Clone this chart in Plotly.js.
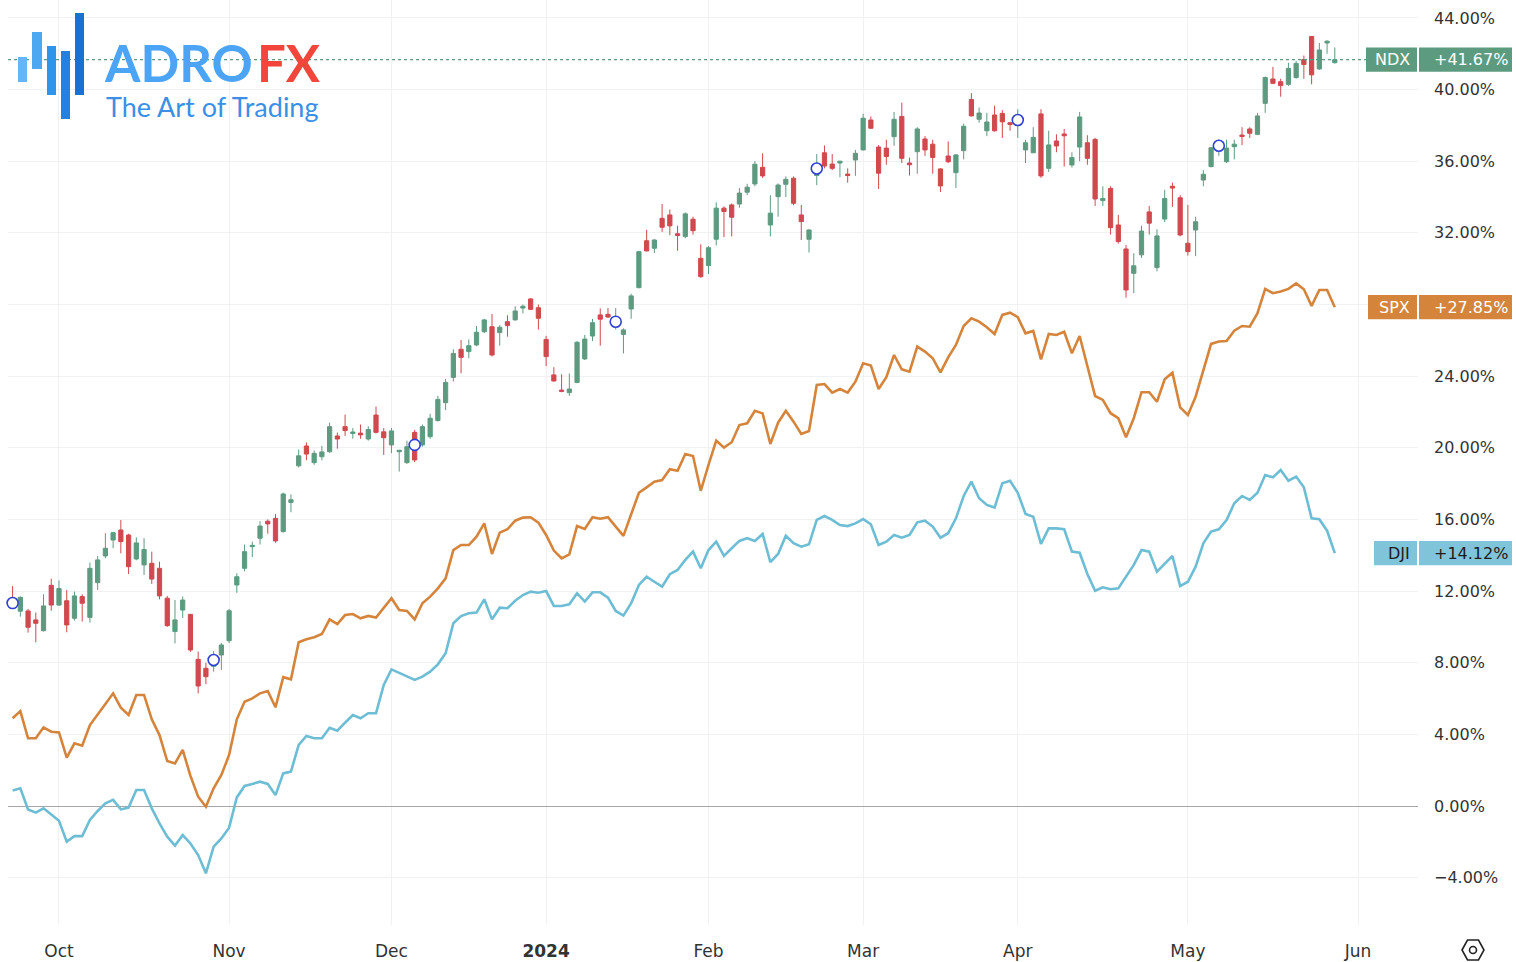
<!DOCTYPE html>
<html>
<head>
<meta charset="utf-8">
<script src="https://cdn.plot.ly/plotly-3.0.1.min.js"></script>
<style>html,body{margin:0;padding:0;background:#fff;}#chart{width:1516px;height:962px;}</style>
</head>
<body>
<div id="chart"></div>
<script>
// Trading-day index 0 = 22 Sep 2023 ... 171 = 29 May 2024 (percent change)
const monthTickIdx = [6, 28, 49, 69, 90, 110, 130, 152, 174];
const monthTickText = ['Oct', 'Nov', 'Dec', '<b>2024</b>', 'Feb', 'Mar', 'Apr', 'May', 'Jun'];
const pctTickVals = [-4, 0, 4, 8, 12, 16, 20, 24, 28, 32, 36, 40, 44];
const pctTickText = ['−4.00%', '0.00%', '4.00%', '8.00%', '12.00%', '16.00%', '20.00%', '24.00%', '', '32.00%', '36.00%', '40.00%', '44.00%'];

const ndxOpen = [
 11.6,10.88,10.89,10.39,9.79,12.32,11.22,11.46,10.48,11.69,
 10.53,12.47,13.96,14.85,15.41,15.13,13.79,13.46,13.55,13.27,
 11.6,9.74,10.94,10.7,8.19,7.69,7.8,8.43,9.23,12.34,
 13.27,14.48,14.95,15.9,16.06,15.32,16.95,18.99,20.1,19.17,
 19.5,19.78,20.66,21.18,20.8,20.82,20.49,21.83,20.89,20.16,
 19.78,19.17,20.86,20.16,20.62,21.52,22.52,23.93,25.5,25.37,
 25.74,26.48,26.76,26.43,27.04,27.14,27.8,28.31,27.82,26.05,
 24.07,23.22,23.08,23.65,24.96,26.24,27.42,27.45,26.9,26.33,
 27.75,28.94,31.56,31.14,32.81,33.0,31.95,31.79,32.76,30.58,
 30.17,31.64,33.38,33.56,33.61,34.27,34.73,35.66,32.44,34.02,
 34.71,35.05,33.0,31.64,35.2,36.47,35.84,35.9,35.28,36.07,
 36.63,38.3,36.79,36.73,37.37,38.5,35.9,36.53,37.24,36.95,
 35.57,36.29,35.36,36.59,39.45,38.34,37.7,38.58,38.67,38.15,
 38.1,36.63,36.47,38.64,35.6,37.13,37.52,35.79,36.79,37.03,
 37.22,33.8,34.48,32.44,31.1,29.74,30.77,33.17,30.06,32.77,
 34.6,33.96,31.42,32.16,34.95,35.7,36.6,35.97,36.81,37.46,
 37.8,37.5,39.23,40.59,40.44,40.29,40.67,41.68,42.96,41.15,
 42.6,41.5];
const ndxHigh = [
 12.28,11.7,11.0,10.8,11.82,12.69,12.6,12.06,11.97,11.82,
 13.59,13.96,15.23,15.3,15.97,15.2,15.0,14.95,14.2,13.64,
 11.73,11.5,11.7,10.72,8.62,8.0,8.65,9.1,11.0,13.0,
 14.6,14.76,15.9,16.0,16.3,17.5,17.4,19.9,20.3,19.85,
 20.1,21.4,20.85,21.85,21.1,21.3,21.2,22.3,21.1,21.1,
 19.88,20.4,21.0,21.3,21.9,22.9,23.85,25.5,26.02,26.05,
 26.8,27.2,27.47,26.85,27.4,27.9,28.0,28.35,28.0,26.25,
 24.5,24.1,24.15,25.95,26.3,27.2,27.78,27.8,27.8,26.67,
 28.6,31.0,32.17,31.65,33.61,33.3,32.4,33.14,32.9,31.36,
 31.26,33.7,33.48,33.64,34.5,34.74,36.0,36.44,34.1,34.76,
 35.15,35.15,33.56,32.2,36.4,36.88,36.4,36.02,35.6,36.63,
 38.65,38.5,36.9,37.2,38.75,39.27,36.2,37.9,37.4,37.2,
 35.6,37.1,36.4,38.1,39.8,39.0,38.7,39.1,38.85,38.2,
 38.9,37.2,37.9,38.9,37.7,37.5,37.8,36.5,38.75,37.45,
 37.3,34.6,34.6,33.0,31.32,30.86,32.4,33.5,32.2,34.4,
 34.8,34.1,33.56,32.9,35.5,36.8,37.2,37.2,37.2,37.9,
 37.9,38.7,40.73,41.26,40.6,41.5,41.6,41.9,42.96,42.6,
 42.75,42.35];
const ndxLow = [
 11.0,10.57,9.68,9.14,9.74,10.9,11.17,9.7,10.35,10.3,
 10.24,12.06,13.83,14.4,14.11,12.95,13.72,12.9,12.4,11.54,
 10.0,9.08,10.5,8.6,6.29,6.8,7.5,7.6,9.1,11.9,
 13.1,13.9,14.6,15.2,14.7,15.26,16.4,18.9,19.3,19.05,
 19.3,19.72,19.95,20.66,20.5,20.5,20.4,20.8,19.6,19.7,
 18.67,19.1,19.2,20.06,20.5,21.47,22.1,23.7,24.16,25.0,
 25.67,26.4,25.1,25.7,26.2,27.1,27.5,27.7,26.6,24.56,
 23.7,23.1,22.9,23.6,24.9,25.96,25.7,27.25,26.6,25.27,
 27.2,28.9,30.97,30.88,32.05,31.87,31.0,31.7,31.9,29.5,
 29.7,31.3,31.76,31.8,33.4,34.1,34.6,35.07,31.8,32.9,
 34.0,33.54,31.6,30.9,34.66,35.6,35.5,35.1,34.8,35.18,
 36.6,37.8,34.45,35.8,36.86,35.9,35.2,35.3,36.3,35.3,
 34.28,35.9,34.5,36.1,38.5,38.15,37.4,37.65,37.3,37.7,
 37.3,35.9,36.45,35.07,35.4,36.5,35.7,35.65,36.0,35.8,
 33.5,33.5,31.9,31.4,28.38,28.63,30.6,31.9,29.85,32.6,
 33.45,31.8,30.73,30.7,34.6,35.65,36.3,35.9,36.1,36.9,
 37.3,37.45,38.7,40.3,39.6,40.2,40.6,40.6,40.29,41.1,
 42.0,41.45];
const ndxClose = [
 11.33,11.65,9.98,10.2,11.17,11.22,12.14,10.11,11.73,11.32,
 13.27,13.74,14.39,15.26,14.76,13.36,14.69,14.32,12.67,11.73,
 10.07,10.39,11.5,8.71,6.7,7.22,8.3,8.99,10.9,12.8,
 14.2,14.55,15.63,15.75,14.8,17.42,17.1,19.55,19.65,19.69,
 19.77,21.18,20.49,20.96,20.88,20.72,21.02,20.86,20.56,20.94,
 19.86,20.06,19.32,21.18,21.65,22.7,23.65,25.27,25.05,25.7,
 26.45,27.14,25.18,26.73,26.82,27.64,27.9,27.73,27.23,25.09,
 23.73,23.15,23.28,25.89,26.07,26.98,27.18,27.3,27.2,26.58,
 28.48,30.95,30.99,31.6,32.31,32.39,31.85,33.06,32.12,29.55,
 31.17,33.38,33.19,32.87,34.22,34.55,35.83,35.18,33.1,34.67,
 34.99,33.65,32.63,32.16,35.8,35.73,35.6,36.0,35.2,36.44,
 38.4,37.84,35.33,36.26,38.34,36.16,35.8,37.8,36.63,36.21,
 34.62,35.97,36.35,37.95,38.53,38.69,38.19,37.7,38.2,38.05,
 38.5,37.03,37.33,35.18,36.91,36.85,37.42,36.2,38.47,36.16,
 33.89,33.92,32.29,31.51,28.81,30.16,32.1,32.54,31.83,33.92,
 34.5,31.88,30.95,32.62,35.27,36.75,37.1,36.73,36.95,37.38,
 37.56,38.53,40.67,40.35,40.22,41.18,41.46,41.4,40.82,42.21,
 42.7,41.67];
const spx = [
 4.9,5.3,3.78,3.78,4.39,4.15,4.11,2.7,3.5,3.37,
 4.52,5.08,5.7,6.29,5.49,5.08,6.2,6.2,4.84,3.96,
 2.51,2.38,3.13,1.68,0.52,-0.04,0.99,1.73,2.85,4.84,
 5.82,6.01,6.29,6.42,5.51,7.19,7.07,9.14,9.31,9.42,
 9.6,10.42,10.16,10.66,10.72,10.48,10.61,10.52,11.04,11.6,
 10.94,10.89,10.42,11.32,11.69,12.15,12.71,14.29,14.57,14.57,
 15.04,15.78,14.07,15.26,15.45,15.93,16.1,16.12,15.82,15.13,
 14.26,13.83,14.05,15.63,15.47,16.12,16.04,16.12,15.6,15.08,
 16.29,17.49,17.79,18.11,18.2,18.8,18.72,19.65,19.54,17.6,
 19.04,20.4,20.01,20.31,21.27,21.37,22.07,21.92,20.21,21.4,
 22.07,21.46,20.77,20.94,23.51,23.56,23.08,23.28,23.08,23.69,
 24.72,24.59,23.28,23.94,25.18,24.38,24.25,25.65,25.37,25.0,
 24.21,25.05,25.74,26.8,27.23,27.04,26.73,26.35,27.42,27.54,
 27.29,26.39,26.52,24.94,26.35,26.3,26.48,25.28,26.24,24.53,
 22.89,22.67,21.93,21.65,20.59,21.65,23.1,23.1,22.57,23.82,
 24.19,22.26,21.83,22.85,24.34,25.8,25.93,25.96,26.54,26.8,
 26.76,27.51,28.87,28.63,28.72,28.87,29.18,28.85,27.92,28.81,
 28.81,27.85];
const dji = [
 0.86,0.99,-0.19,-0.37,-0.13,-0.5,-0.82,-1.99,-1.68,-1.68,
 -0.78,-0.28,0.15,0.34,-0.19,-0.09,0.89,0.89,-0.13,-0.97,
 -1.71,-2.21,-1.62,-2.09,-2.74,-3.76,-2.27,-1.81,-1.21,0.48,
 1.12,1.23,1.36,1.23,0.61,1.82,1.92,3.41,3.91,3.78,
 3.78,4.37,4.2,4.65,5.08,4.9,5.18,5.18,6.76,7.63,
 7.44,7.22,7.04,7.22,7.5,7.91,8.53,10.2,10.6,10.76,
 10.8,11.54,10.42,11.07,11.04,11.46,11.78,11.97,11.91,12.0,
 11.17,11.17,11.26,11.88,11.41,11.93,11.93,11.63,10.89,10.63,
 11.32,12.34,12.8,12.52,12.25,12.94,13.18,13.74,14.2,13.27,
 14.29,14.76,13.96,14.39,14.8,14.95,14.8,15.19,13.61,14.07,
 15.09,14.67,14.48,14.61,15.97,16.19,15.97,15.69,15.63,15.78,
 16.02,15.73,14.57,14.76,15.13,14.98,15.13,15.84,15.93,15.6,
 14.98,15.23,16.06,17.31,18.11,17.18,16.81,16.66,18.02,18.16,
 17.49,16.3,16.15,14.63,15.5,15.5,15.45,14.2,14.14,12.95,
 12.02,12.21,12.1,12.15,12.8,13.46,14.29,14.2,13.08,13.55,
 13.96,12.28,12.52,13.36,14.67,15.32,15.45,15.97,16.9,17.31,
 17.09,17.49,18.48,18.35,18.76,18.16,18.39,17.79,16.06,16.01,
 15.37,14.12];
const eventIdx = [0, 26, 52, 78, 104, 130, 156];
const eventVal = [11.33, 8.15, 20.16, 27.04, 35.59, 38.3, 36.86];
const seriesNames = ['NDX', 'SPX', 'DJI'];

const idx = ndxClose.map((_, i) => i);
const GREEN = '#5d9b80', RED = '#d0494e', ORANGE = '#d5843c', BLUE = '#6dbdd5', BLUE_LBL = '#80c4da';

// pixel -> paper helpers for decorations (plot area 8..1418 x 0..925)
const PL = 8, PW = 1410, PT = 0, PH = 925;
const px = x => (x - PL) / PW;
const py = y => (PT + PH - y) / PH;

const traces = [
  {type:'scatter', mode:'lines', x: idx, y: spx, line:{color:ORANGE, width:2.6}, hoverinfo:'skip'},
  {type:'scatter', mode:'lines', x: idx, y: dji, line:{color:BLUE, width:2.6}, hoverinfo:'skip'},
  {type:'candlestick', x: idx, open: ndxOpen, high: ndxHigh, low: ndxLow, close: ndxClose,
   increasing:{line:{color:GREEN, width:1}, fillcolor:GREEN},
   decreasing:{line:{color:RED, width:1}, fillcolor:RED},
   whiskerwidth:0, hoverinfo:'skip'},
  {type:'scatter', mode:'markers', x: eventIdx, y: eventVal, cliponaxis:false,
   marker:{symbol:'circle', size:11, color:'#ffffff', line:{color:'#2f41d3', width:1.6}}, hoverinfo:'skip'}
];

const lastN = ndxClose[ndxClose.length-1];
const lastS = spx[spx.length-1];
const lastD = dji[dji.length-1];
const fmt = v => (v >= 0 ? '+' : '') + v.toFixed(2) + '%';

const shapes = [];
const annotations = [];
// price line for NDX
shapes.push({type:'line', xref:'paper', yref:'y', x0:0, x1:px(1366), y0:lastN, y1:lastN,
  line:{color:GREEN, width:1.2, dash:'dot'}, layer:'above'});

function label(name, val, col, txtCol, leftPx) {
  const h = 0.68;
  shapes.push({type:'rect', xref:'paper', yref:'y', x0:px(leftPx), x1:px(1417), y0:val-h, y1:val+h,
    fillcolor:col, line:{width:0}, layer:'above'});
  shapes.push({type:'rect', xref:'paper', yref:'y', x0:px(1419), x1:px(1512), y0:val-h, y1:val+h,
    fillcolor:col, line:{width:0}, layer:'above'});
  annotations.push({xref:'paper', yref:'y', x:px(1412), y:val, xanchor:'right', yanchor:'middle',
    text:name, showarrow:false, font:{family:'DejaVu Sans', size:16, color:txtCol}});
  annotations.push({xref:'paper', yref:'y', x:px(1432), y:val, xanchor:'left', yanchor:'middle',
    text:fmt(val), showarrow:false, font:{family:'DejaVu Sans', size:16, color:txtCol}});
}
label(seriesNames[0], lastN, GREEN, '#ffffff', 1366);
label(seriesNames[1], lastS, ORANGE, '#ffffff', 1368);
label(seriesNames[2], lastD, BLUE_LBL, '#1c1c1c', 1374);

// Logo watermark bars
const bars = [[18,27,57,82,'#63b6f7'],[32,42,32,69,'#4da8f2'],[47,56,46,95,'#2f95ea'],[61,70,51,119,'#2382e0'],[75,84,13,95,'#1b71d2']];
bars.forEach(b => shapes.push({type:'rect', xref:'paper', yref:'paper', x0:px(b[0]), x1:px(b[1]), y0:py(b[3]), y1:py(b[2]),
  fillcolor:b[4], line:{width:0}, layer:'above'}));
annotations.push({xref:'paper', yref:'paper', x:px(102), y:py(63), xanchor:'left', yanchor:'middle', showarrow:false,
  text:'<b>ADRO</b>', font:{family:'Lato', size:51, color:'#4ba4f6'}});
annotations.push({xref:'paper', yref:'paper', x:px(255), y:py(63), xanchor:'left', yanchor:'middle', showarrow:false,
  text:'<b>FX</b>', font:{family:'Lato', size:51, color:'#f2463c'}});
annotations.push({xref:'paper', yref:'paper', x:px(104), y:py(106), xanchor:'left', yanchor:'middle', showarrow:false,
  text:'The Art of Trading', font:{family:'Lato', size:27, color:'#3b8fe6'}});

// settings gear icon (hexagon)
(function(){
  const cx = 1473, cy = 950, rx = 11, ry = 10;
  const pts = [[cx-rx,cy],[cx-rx/2,cy-ry],[cx+rx/2,cy-ry],[cx+rx,cy],[cx+rx/2,cy+ry],[cx-rx/2,cy+ry]];
  const d = 'M' + pts.map(p => px(p[0]).toFixed(5)+','+py(p[1]).toFixed(5)).join(' L') + ' Z';
  shapes.push({type:'path', xref:'paper', yref:'paper', path:d, line:{color:'#222', width:1.6}, fillcolor:'rgba(0,0,0,0)', layer:'above'});
  shapes.push({type:'circle', xref:'paper', yref:'paper', x0:px(cx-3.5), x1:px(cx+3.5), y0:py(cy+3.5), y1:py(cy-3.5),
    line:{color:'#222', width:1.6}, layer:'above'});
})();

const layout = {
  width:1516, height:962,
  margin:{l:PL, r:1516-PL-PW, t:PT, b:962-PT-PH, pad:0},
  paper_bgcolor:'#ffffff', plot_bgcolor:'#ffffff',
  font:{family:'DejaVu Sans', size:16, color:'#333333'},
  showlegend:false, hovermode:false,
  boxgap:0.22,
  xaxis:{range:[-0.595,181.76], tickmode:'array', tickvals:monthTickIdx, ticktext:monthTickText,
    showgrid:true, gridcolor:'#f0f1f3', gridwidth:1, zeroline:false, showline:false, ticks:'',
    tickfont:{size:17, color:'#333'}, ticklabelstandoff:14, rangeslider:{visible:false}, fixedrange:true},
  yaxis:{side:'right', range:[-6.644,45.0], tickmode:'array', tickvals:pctTickVals, ticktext:pctTickText,
    showgrid:true, gridcolor:'#f0f1f3', gridwidth:1, zeroline:true, zerolinecolor:'#a6a6a6', zerolinewidth:1,
    showline:false, ticks:'', ticklabelstandoff:15, tickfont:{size:16, color:'#333'}, fixedrange:true},
  shapes: shapes,
  annotations: annotations
};

Plotly.newPlot('chart', traces, layout, {displayModeBar:false, staticPlot:true});
</script>
</body>
</html>
